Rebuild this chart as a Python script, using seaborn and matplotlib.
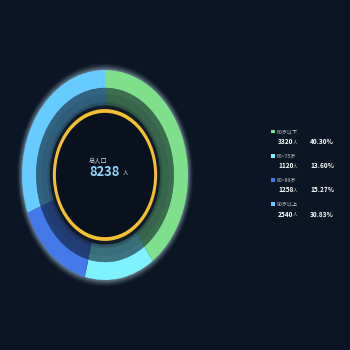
import numpy as np
import pandas as pd
import matplotlib
matplotlib.use("Agg")
import matplotlib.pyplot as plt
import seaborn as sns

# Population by age group
categories = ["60岁以下", "65~75岁", "80~89岁", "90岁以上"]
counts = [3320, 1120, 1258, 2540]
colors = ["#7ee08b", "#7ff2ff", "#4479ea", "#66ccff"]
total_label = "总人口"
unit = "人"

BG = "#0b1523"

sns.set_theme(style="dark", rc={"figure.facecolor": BG, "axes.facecolor": BG,
                                "savefig.facecolor": BG})
plt.rcParams["font.family"] = ["Noto Sans CJK SC", "DejaVu Sans"]

total = sum(counts)
shares = [c / total * 100 for c in counts]

W, H = 350, 350
fig = plt.figure(figsize=(W / 100, H / 100), dpi=100)

# donut axes: unit radius maps to an ellipse of 83 x 105 px centred at (105, 175)
cx, cy, rx, ry = 105, 175, 83, 105
lim = 1.25
aw, ah = 2 * rx * lim, 2 * ry * lim
ax = fig.add_axes([(cx - aw / 2) / W, 1 - (cy + ah / 2) / H, aw / W, ah / H])
ax.set_facecolor("none")

pie_kw = dict(startangle=90, counterclock=False)

# soft halo around the outer ring
n_halo = 12
for k in range(n_halo):
    r = 1.0 + 0.006 * (k + 1)
    ax.pie(counts, radius=r, colors=["#cfeeff"] * 4,
           wedgeprops=dict(width=0.1, alpha=0.09 * (1 - k / n_halo), linewidth=0),
           **pie_kw)

# bright outer ring
ax.pie(counts, radius=1.0, colors=colors,
       wedgeprops=dict(width=0.17, linewidth=0), **pie_kw)
# translucent inner band, slightly brighter towards the outer ring
ax.pie(counts, radius=0.83, colors=colors,
       wedgeprops=dict(width=0.17, alpha=0.40, linewidth=0), **pie_kw)
ax.pie(counts, radius=0.83, colors=colors,
       wedgeprops=dict(width=0.06, alpha=0.06, linewidth=0), **pie_kw)
# soften inner edge of the band
for k in range(5):
    ax.pie([1], radius=0.665 + 0.008 * k, colors=[BG],
           wedgeprops=dict(width=0.012, alpha=0.25 - 0.04 * k, linewidth=0),
           startangle=90)

# dark shadow, gold ring and dark core
ax.pie([1], radius=0.66, colors=["#121c28"], wedgeprops=dict(linewidth=0))
ax.pie([1], radius=0.628, colors=["#f4c031"], wedgeprops=dict(linewidth=0))
ax.pie([1], radius=0.592, colors=["#08111d"], wedgeprops=dict(linewidth=0))

ax.set_aspect("auto")
ax.set_xlim(-lim, lim)
ax.set_ylim(-lim, lim)
ax.axis("off")

# centre text
fig.text(98 / W, 1 - 161.5 / H, total_label, color="#d6dde6", fontsize=4.5,
         ha="center", va="center")
fig.text(105 / W, 1 - 172 / H, f"{total}", color="#8fd6ff", fontsize=9.3,
         fontweight="bold", ha="center", va="center")
fig.text(125.5 / W, 1 - 173.5 / H, unit, color="#c9d2dc", fontsize=4,
         ha="center", va="center")

# legend
lax = fig.add_axes([0, 0, 1, 1])
lax.set_facecolor("none")
lax.set_xlim(0, W)
lax.set_ylim(H, 0)
lax.axis("off")
ys = [131.5 + 24.2 * i for i in range(len(categories))]
legend_df = pd.DataFrame({"x": [273] * len(categories), "y": ys, "cat": categories})
sns.scatterplot(data=legend_df, x="x", y="y", hue="cat", palette=colors,
                marker="s", s=8, linewidth=0, legend=False, ax=lax)
for i, cat in enumerate(categories):
    y = ys[i]
    lax.text(277, y, cat, color="#c8d0da", fontsize=3.7, ha="left", va="center")
    lax.text(278, y + 10, f"{counts[i]}", color="#ffffff", fontsize=4.7,
             fontweight="bold", ha="left", va="center")
    lax.text(278.8 + 3.55 * len(str(counts[i])), y + 10.5, unit, color="#c8d0da",
             fontsize=3.4, ha="left", va="center")
    lax.text(310, y + 10, f"{shares[i]:.2f}%", color="#ffffff", fontsize=4.7,
             fontweight="bold", ha="left", va="center")

fig.savefig("out.png", dpi=100, facecolor=BG)
